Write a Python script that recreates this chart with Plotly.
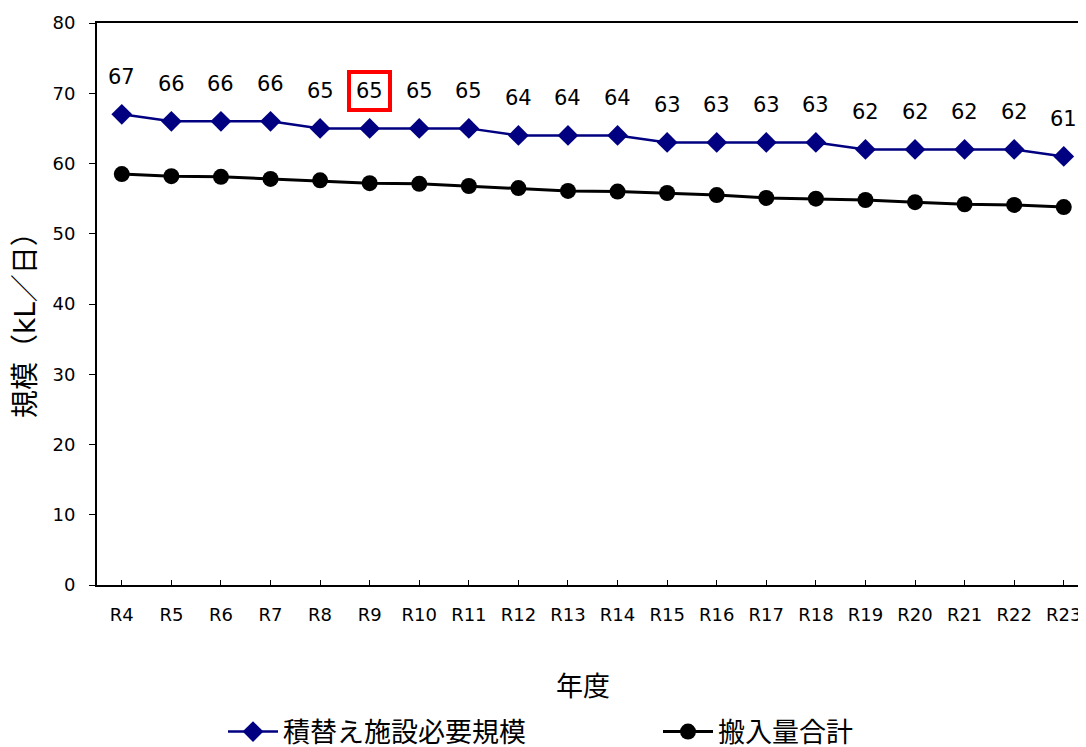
import plotly.graph_objects as go

years = ["R4","R5","R6","R7","R8","R9","R10","R11","R12","R13","R14","R15","R16","R17","R18","R19","R20","R21","R22","R23"]
required = [67,66,66,66,65,65,65,65,64,64,64,63,63,63,63,62,62,62,62,61]
inflow = [58.5,58.2,58.1,57.8,57.6,57.2,57.1,56.8,56.5,56.1,56.0,55.8,55.5,55.1,55.0,54.8,54.5,54.2,54.1,53.8]
highlight = "R9"

FONT = "DejaVu Sans, Noto Sans CJK JP, sans-serif"

fig = go.Figure()
fig.add_trace(go.Scatter(x=years, y=required, mode="lines+markers", name="積替え施設必要規模",
                         line=dict(color="#000080", width=2.5),
                         marker=dict(symbol="diamond", size=16, color="#000080")))
fig.add_trace(go.Scatter(x=years, y=inflow, mode="lines+markers", name="搬入量合計",
                         line=dict(color="black", width=3),
                         marker=dict(symbol="circle", size=16, color="black")))

for x, v in zip(years, required):
    hl = x == highlight
    fig.add_annotation(x=x, y=v, text=str(v), showarrow=False, yshift=37,
                       font=dict(size=21, color="black", family=FONT),
                       bordercolor="red" if hl else "rgba(0,0,0,0)", borderwidth=4 if hl else 0,
                       borderpad=5 if hl else 0)

# x-axis title
fig.add_annotation(text="年度", xref="paper", x=(583 - 97) / 997, xanchor="center",
                   yref="paper", y=(585 - 686) / 562, yanchor="middle", showarrow=False,
                   font=dict(size=27, family=FONT))
# y-axis title
fig.add_annotation(text="規模（kL／日）", xref="paper", x=(25 - 97) / 997, xanchor="center",
                   yref="paper", y=(585 - 318) / 562, yanchor="middle", showarrow=False,
                   textangle=-90, font=dict(size=28, family=FONT))

fig.update_layout(
    width=1086, height=747,
    margin=dict(l=89, r=0, t=15, b=170, autoexpand=False),
    plot_bgcolor="white", paper_bgcolor="white",
    font=dict(family=FONT, color="black"),
    showlegend=True,
    legend=dict(orientation="h", xref="container", x=215 / 1086, xanchor="left",
                yref="container", y=1 - 724 / 747, yanchor="middle",
                font=dict(size=27), itemwidth=50, entrywidthmode="pixels", entrywidth=370,
                tracegroupgap=0, bgcolor="rgba(0,0,0,0)"),
    xaxis=dict(range=[-0.5, 19.61], showline=True, linecolor="black", linewidth=2,
               ticks="inside", ticklen=5, tickcolor="black", showgrid=False,
               tickfont=dict(size=18), ticklabelstandoff=12,
               mirror=True, fixedrange=True, automargin=False),
    yaxis=dict(range=[0, 80], dtick=10, showline=True, linecolor="black", linewidth=2,
               ticks="outside", ticklen=6, tickcolor="black", showgrid=False,
               tickfont=dict(size=18), ticklabelstandoff=10,
               zeroline=False, automargin=False),
)

fig.write_html("out.html")
